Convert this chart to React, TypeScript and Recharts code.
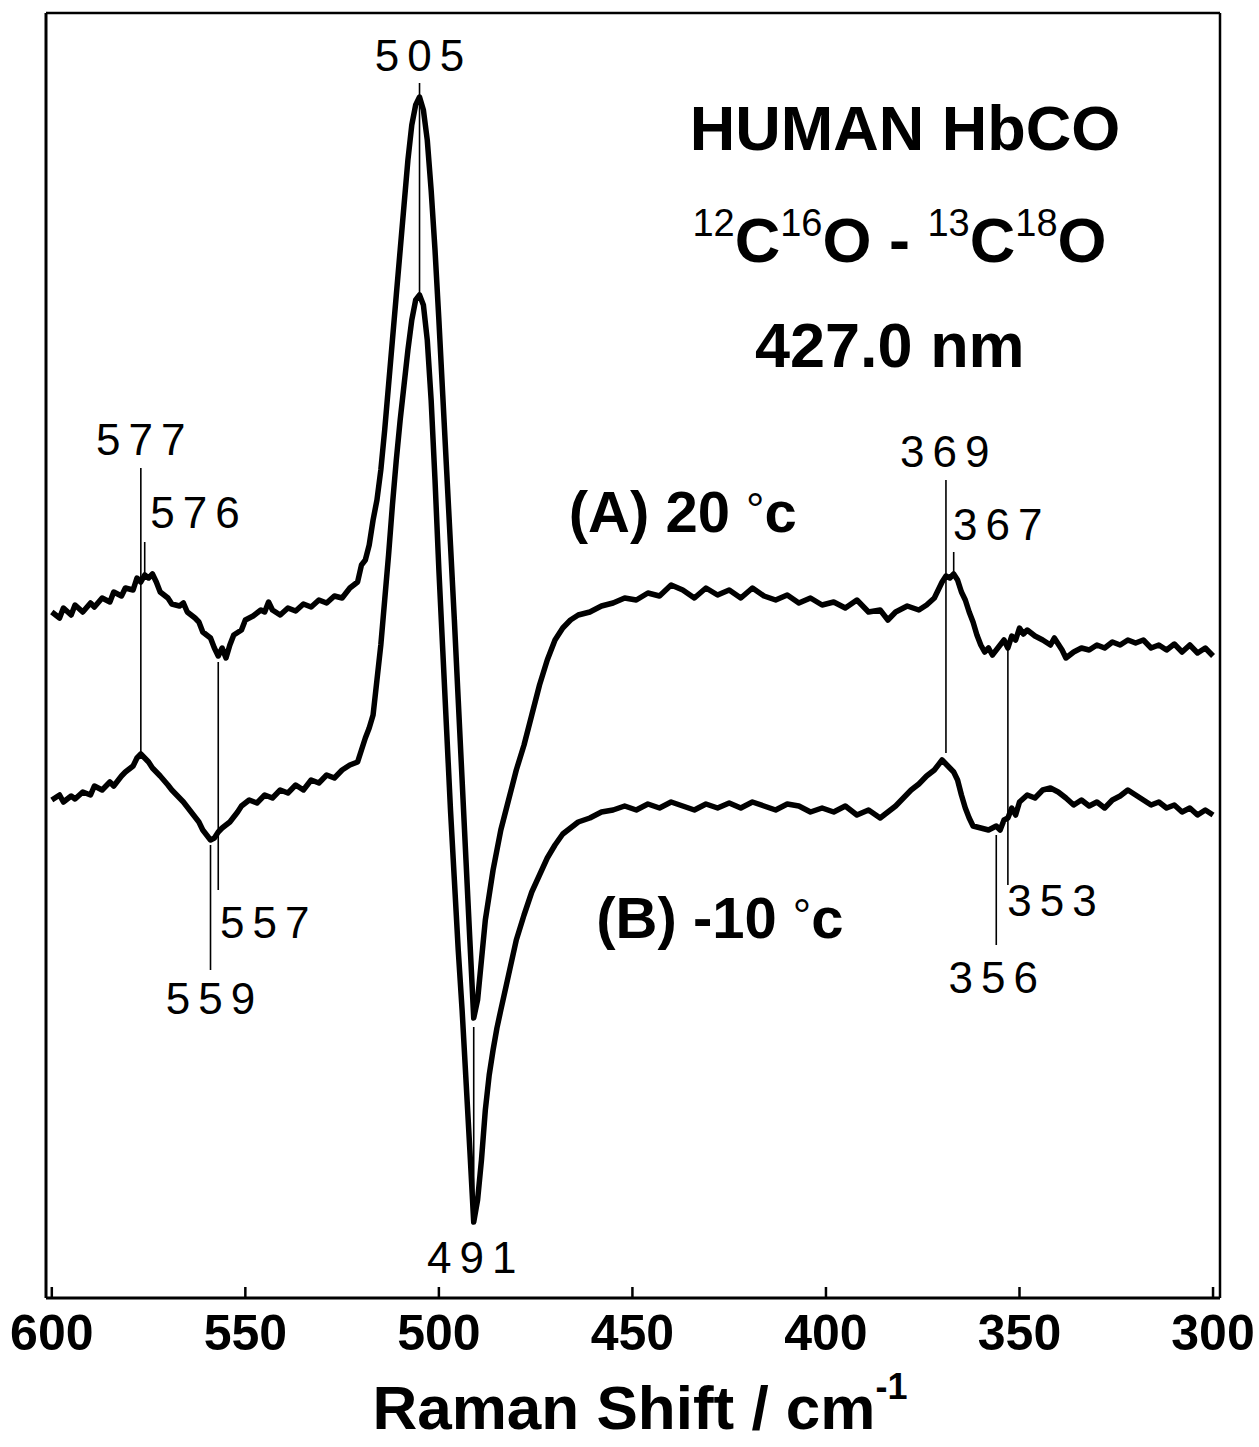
import React from "react";
import {
  LineChart,
  Line,
  XAxis,
  YAxis,
  ReferenceLine,
  ReferenceDot,
  Label,
} from "recharts";

// Raman shift (cm-1) and difference signal (arb. units) for (A) 20 °C
const shiftA = [
  600, 598, 597, 595, 594, 592, 590, 589, 587, 585, 584, 582, 581, 579, 578, 577, 576, 575, 574, 573,
  572, 570, 569, 567, 566, 565, 563, 562, 561, 559, 558, 557, 556, 555, 554, 553, 551, 550, 548, 546,
  545, 544, 543, 541, 539, 537, 535, 533, 531, 529, 527, 525, 523, 521, 520, 519, 518, 517, 516, 515,
  514, 513, 512, 511, 510, 509, 508, 507, 506, 505, 504, 503, 502, 501, 500, 499, 498, 497, 496, 495,
  494, 493, 492, 491, 490, 489, 488, 487, 486, 485, 484, 482, 480, 478, 476, 474, 472, 470, 468, 466,
  464, 461, 458, 455, 452, 449, 446, 443, 440, 437, 434, 431, 428, 425, 422, 419, 416, 413, 410, 407,
  404, 401, 398, 395, 392, 389, 386, 384, 382, 379, 376, 374, 372, 370, 369, 368, 367, 366, 365, 364,
  363, 362, 361, 360, 359, 358, 357, 356, 355, 354, 353, 352, 351, 350, 349, 348, 346, 344, 342, 341,
  339, 338, 336, 334, 332, 330, 328, 326, 324, 322, 320, 318, 316, 314, 312, 310, 308, 306, 304, 302,
  300,
];
const signalA = [
  688, 682, 692, 685, 695, 688, 697, 693, 702, 698, 708, 704, 712, 710, 722, 718, 725, 722, 726, 718,
  708, 702, 696, 694, 697, 688, 682, 678, 668, 662, 652, 644, 652, 642, 655, 665, 670, 680, 684, 690,
  688, 698, 690, 685, 692, 689, 696, 693, 700, 697, 704, 702, 712, 718, 735, 740, 755, 780, 800, 830,
  870, 915, 960, 1005, 1050, 1095, 1140, 1175, 1195, 1203, 1190, 1160, 1110, 1050, 980, 905, 830, 755, 680, 600,
  520, 440, 360, 282, 300, 340, 380, 405, 430, 450, 470, 500, 530, 555, 585, 615, 640, 660, 672, 680,
  685, 688, 694, 697, 702, 700, 707, 704, 715, 710, 702, 712, 705, 710, 702, 712, 704, 700, 705, 697,
  702, 695, 698, 692, 700, 688, 690, 680, 688, 694, 690, 695, 702, 718, 724, 722, 726, 720, 708, 700,
  688, 678, 665, 655, 648, 652, 645, 650, 655, 660, 652, 664, 660, 672, 666, 670, 664, 660, 655, 662,
  650, 642, 648, 652, 650, 655, 652, 658, 655, 660, 657, 660, 652, 655, 650, 656, 648, 655, 647, 652,
  644,
];

// (B) -10 °C
const shiftB = [
  600, 598, 597, 595, 594, 592, 590, 589, 587, 585, 584, 582, 581, 579, 578, 577, 576, 575, 574, 572,
  570, 569, 567, 566, 564, 562, 561, 559, 558, 557, 556, 554, 552, 551, 549, 547, 545, 543, 541, 539,
  537, 535, 533, 531, 529, 527, 525, 523, 521, 520, 519, 518, 517, 516, 515, 514, 513, 512, 511, 510,
  509, 508, 507, 506, 505, 504, 503, 502, 501, 500, 499, 498, 497, 496, 495, 494, 493, 492, 491, 490,
  489, 488, 487, 486, 485, 484, 482, 480, 478, 476, 474, 472, 470, 468, 466, 464, 461, 458, 455, 452,
  449, 446, 443, 440, 437, 434, 431, 428, 425, 422, 419, 416, 413, 410, 407, 404, 401, 398, 395, 392,
  389, 386, 384, 382, 380, 378, 376, 374, 372, 370, 369, 368, 367, 366, 365, 364, 363, 362, 360, 358,
  356, 355, 354, 353, 352, 351, 350, 348, 346, 344, 342, 340, 338, 336, 334, 332, 330, 328, 326, 324,
  322, 320, 318, 316, 314, 312, 310, 308, 306, 304, 302, 300,
];
const signalB = [
  500, 505, 498, 504, 501, 508, 505, 514, 510, 518, 514, 524, 528, 534, 542, 546, 542, 538, 532, 524,
  515, 510, 502, 498, 488, 478, 470, 460, 462, 468, 472, 478, 488, 494, 500, 497, 505, 502, 510, 507,
  515, 510, 520, 517, 525, 522, 530, 535, 538, 550, 562, 572, 585, 620, 655, 700, 745, 795, 840, 880,
  915, 950, 980, 1000, 1005, 995, 960, 900, 820, 730, 650, 570, 490, 420, 350, 290, 220, 150, 78, 100,
  140, 190, 225, 250, 272, 290, 325, 360, 385, 408, 425, 442, 455, 466, 472, 478, 482, 488, 490, 494,
  490, 496, 492, 498, 494, 490, 496, 492, 497, 492, 498, 494, 490, 496, 494, 488, 492, 488, 494, 485,
  490, 482, 488, 494, 502, 510, 516, 524, 530, 540, 536, 532, 528, 520, 505, 492, 482, 474, 472, 470,
  474, 470, 480, 482, 492, 485, 498, 505, 502, 510, 512, 508, 502, 495, 500, 494, 498, 492, 500, 504,
  510, 505, 500, 495, 498, 492, 495, 488, 492, 485, 490, 485,
];

// peak markers: position, line from y1 to y2
const markShift = [505, 577, 576, 557, 559, 491, 369, 367, 353, 356];
const markTop = [1217, 832, 758, 638, 455, 273, 820, 748, 650, 465];
const markBottom = [1005, 548, 723, 410, 330, 83, 547, 727, 415, 355];

// marker labels: text, position
const peakLabels = ["505", "577", "576", "557", "559", "491", "369", "367", "353", "356"];
const peakLabelX = [505, 577, 563, 545, 559, 491.5, 369.3, 355.6, 341.6, 356.8];
const peakLabelY = [1245, 861, 788, 378, 302, 43, 849, 776, 400, 323];

const xTicks = [600, 550, 500, 450, 400, 350, 300];

const dataA = shiftA.map((s, i) => ({ shift: s, signal: signalA[i] }));
const dataB = shiftB.map((s, i) => ({ shift: s, signal: signalB[i] }));

const FONT = "'Liberation Sans', Arial, Helvetica, sans-serif";

const CenterText = (props: any) => {
  const { viewBox, size, weight, spacing, children } = props;
  const cx = viewBox.x + viewBox.width / 2;
  const cy = viewBox.y + viewBox.height / 2;
  return (
    <text
      x={cx + (spacing || 0) / 2}
      y={cy}
      textAnchor="middle"
      dominantBaseline="central"
      fontFamily={FONT}
      fontSize={size}
      fontWeight={weight || "normal"}
      letterSpacing={spacing || 0}
      fill="#000"
    >
      {children}
    </text>
  );
};

const XTick = (props: any) => {
  const { x, y, payload } = props;
  return (
    <g>
      <line x1={x} x2={x} y1={y} y2={y - 11} stroke="#000" strokeWidth={2.5} />
      <text
        x={x}
        y={y + 35}
        textAnchor="middle"
        dominantBaseline="central"
        fontFamily={FONT}
        fontSize={50}
        fontWeight="bold"
        fill="#000"
      >
        {payload.value}
      </text>
    </g>
  );
};

const AxisTitle = (props: any) => {
  const { viewBox } = props;
  const cx = viewBox.x + viewBox.width / 2 + 7;
  return (
    <text x={cx} y={viewBox.y + 131} textAnchor="middle" fontFamily={FONT} fontWeight="bold" fontSize={62} fill="#000">
      Raman Shift / cm
      <tspan fontSize={36} dy={-30}>-1</tspan>
    </text>
  );
};

const Isotopes = (props: any) => {
  const { viewBox } = props;
  const cx = viewBox.x + viewBox.width / 2;
  const cy = viewBox.y + viewBox.height / 2 + 22;
  return (
    <text x={cx} y={cy} textAnchor="middle" fontFamily={FONT} fontWeight="bold" fontSize={63} fill="#000">
      <tspan fontSize={38} fontWeight="normal" dy={-26}>12</tspan>
      <tspan dy={26}>C</tspan>
      <tspan fontSize={38} fontWeight="normal" dy={-26}>16</tspan>
      <tspan dy={26}>O - </tspan>
      <tspan fontSize={38} fontWeight="normal" dy={-26}>13</tspan>
      <tspan dy={26}>C</tspan>
      <tspan fontSize={38} fontWeight="normal" dy={-26}>18</tspan>
      <tspan dy={26}>O</tspan>
    </text>
  );
};

const Temp = (props: any) => {
  const { viewBox, label } = props;
  const cx = viewBox.x + viewBox.width / 2;
  const cy = viewBox.y + viewBox.height / 2 + 20;
  return (
    <text x={cx} y={cy} textAnchor="middle" fontFamily={FONT} fontWeight="bold" fontSize={58} fill="#000">
      {label}{" "}
      <tspan fontSize={46} fontWeight="normal" dy={-6}>°</tspan>
      <tspan dy={6}>c</tspan>
    </text>
  );
};

const App = () => {
  return (
    <div style={{ position: "absolute", left: 0, top: 0, background: "#fff" }}>
      <LineChart
        width={1259}
        height={1447}
        margin={{ top: 12, right: 38, bottom: 89, left: 45 }}
      >
        <XAxis
          dataKey="shift"
          type="number"
          domain={[298.2, 601.5]}
          reversed
          ticks={xTicks}
          tick={<XTick />}
          tickLine={false}
          tickSize={0}
          tickMargin={0}
          height={60}
          axisLine={{ stroke: "#000", strokeWidth: 3 }}
          allowDataOverflow
        >
          <Label content={<AxisTitle />} position="bottom" />
        </XAxis>
        <XAxis
          xAxisId="top"
          orientation="top"
          type="number"
          domain={[298.2, 601.5]}
          reversed
          tick={false}
          tickLine={false}
          height={1}
          axisLine={{ stroke: "#000", strokeWidth: 2.5 }}
        />
        <YAxis
          type="number"
          domain={[2, 1287]}
          tick={false}
          tickLine={false}
          width={1}
          axisLine={{ stroke: "#000", strokeWidth: 3 }}
          allowDataOverflow
        />
        <YAxis
          yAxisId="right"
          orientation="right"
          type="number"
          domain={[2, 1287]}
          tick={false}
          tickLine={false}
          width={1}
          axisLine={{ stroke: "#000", strokeWidth: 2.5 }}
        />

        {markShift.map((s, i) => (
          <ReferenceLine
            key={`m-${i}`}
            segment={[
              { x: s, y: markTop[i] },
              { x: s, y: markBottom[i] },
            ]}
            stroke="#000"
            strokeWidth={1.6}
            ifOverflow="visible"
          />
        ))}

        <Line
          data={dataA}
          dataKey="signal"
          type="linear"
          stroke="#000"
          strokeWidth={5.5}
          strokeLinejoin="round"
          dot={false}
          isAnimationActive={false}
        />
        <Line
          data={dataB}
          dataKey="signal"
          type="linear"
          stroke="#000"
          strokeWidth={5.5}
          strokeLinejoin="round"
          dot={false}
          isAnimationActive={false}
        />

        {peakLabels.map((t, i) => (
          <ReferenceDot
            key={`l-${i}`}
            x={peakLabelX[i]}
            y={peakLabelY[i]}
            r={0}
            fill="none"
            stroke="none"
            ifOverflow="visible"
            label={<CenterText size={44} spacing={8}>{t}</CenterText>}
          />
        ))}

        <ReferenceDot
          x={379.6}
          y={1172}
          r={0}
          fill="none"
          stroke="none"
          label={<CenterText size={63} weight="bold">HUMAN HbCO</CenterText>}
        />
        <ReferenceDot x={381} y={1060} r={0} fill="none" stroke="none" label={<Isotopes />} />
        <ReferenceDot
          x={383.5}
          y={955}
          r={0}
          fill="none"
          stroke="none"
          label={<CenterText size={63} weight="bold">427.0 nm</CenterText>}
        />
        <ReferenceDot x={437} y={788} r={0} fill="none" stroke="none" label={<Temp label="(A) 20" />} />
        <ReferenceDot x={427.4} y={382} r={0} fill="none" stroke="none" label={<Temp label="(B) -10" />} />
      </LineChart>
    </div>
  );
};

export default App;
